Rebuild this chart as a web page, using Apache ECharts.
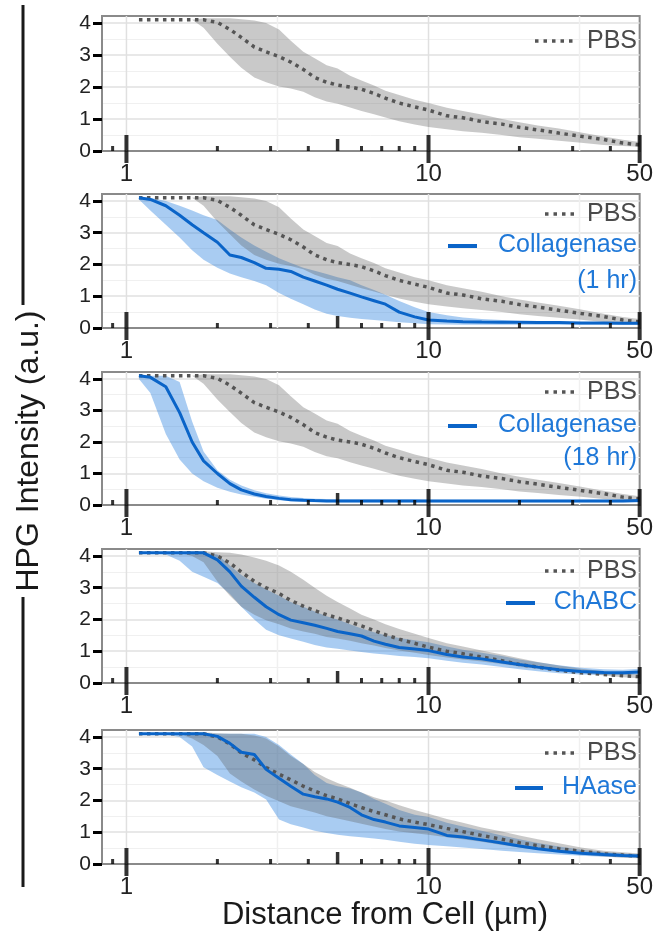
<!DOCTYPE html>
<html>
<head>
<meta charset="utf-8">
<script src="https://cdn.jsdelivr.net/npm/echarts@6/dist/echarts.min.js"></script>
<style>
  html, body { margin: 0; padding: 0; background: #fff; }
  #chart { width: 656px; height: 941px; }
</style>
</head>
<body>
<div id="chart"></div>
<script>
// distance from cell (µm), shared by every curve
var dist = [1.1, 1.2, 1.35, 1.5, 1.65, 1.8, 2, 2.2, 2.4, 2.65, 2.9, 3.2, 3.5, 3.85, 4.2, 4.6, 5, 5.5, 6, 6.6, 7.2, 8, 9, 10, 11.5, 13, 15, 17.5, 20, 23, 27, 32, 38, 44, 50];

// PBS control (panels 1-3)
var pbsMean = [4.1, 4.1, 4.1, 4.1, 4.1, 4.1, 4.02, 3.8, 3.55, 3.25, 3.1, 2.95, 2.78, 2.55, 2.3, 2.15, 2.06, 2.0, 1.93, 1.8, 1.65, 1.5, 1.38, 1.28, 1.1, 1.04, 0.92, 0.84, 0.74, 0.66, 0.56, 0.46, 0.36, 0.25, 0.19];
var pbsHigh = [4.1, 4.1, 4.1, 4.1, 4.1, 4.15, 4.15, 4.15, 4.12, 4.08, 4.0, 3.8, 3.45, 3.1, 2.9, 2.68, 2.58, 2.35, 2.2, 2.05, 1.88, 1.75, 1.6, 1.5, 1.35, 1.25, 1.14, 1.0, 0.9, 0.8, 0.7, 0.58, 0.45, 0.35, 0.28];
var pbsLow = [4.1, 4.1, 4.1, 4.1, 4.1, 3.85, 3.35, 2.95, 2.6, 2.3, 2.15, 2.02, 1.95, 1.85, 1.68, 1.55, 1.48, 1.36, 1.25, 1.15, 1.05, 0.93, 0.83, 0.75, 0.68, 0.62, 0.57, 0.5, 0.43, 0.38, 0.32, 0.26, 0.19, 0.16, 0.13];

// PBS control (panel 4)
var pbsMean4 = [4.1, 4.1, 4.1, 4.1, 4.1, 4.1, 4.0, 3.78, 3.5, 3.2, 3.0, 2.82, 2.6, 2.42, 2.28, 2.15, 2.05, 1.92, 1.8, 1.65, 1.52, 1.38, 1.25, 1.13, 1.0, 0.92, 0.82, 0.7, 0.58, 0.5, 0.4, 0.32, 0.27, 0.23, 0.2];
var pbsHigh4 = [4.1, 4.1, 4.1, 4.12, 4.15, 4.15, 4.12, 4.1, 4.05, 3.95, 3.85, 3.7, 3.5, 3.25, 3.0, 2.75, 2.55, 2.35, 2.15, 2.0, 1.85, 1.7, 1.55, 1.42, 1.25, 1.15, 1.02, 0.9, 0.78, 0.66, 0.55, 0.45, 0.37, 0.3, 0.27];
var pbsLow4 = [4.1, 4.1, 4.1, 4.1, 4.0, 3.8, 3.2, 2.75, 2.4, 2.15, 1.98, 1.85, 1.72, 1.62, 1.55, 1.45, 1.4, 1.33, 1.25, 1.18, 1.1, 1.02, 0.95, 0.88, 0.8, 0.74, 0.68, 0.6, 0.52, 0.46, 0.4, 0.32, 0.24, 0.18, 0.15];

// PBS control (panel 5)
var pbsMean5 = [4.1, 4.1, 4.1, 4.1, 4.1, 4.1, 4.0, 3.78, 3.5, 3.28, 3.04, 2.83, 2.65, 2.45, 2.3, 2.15, 2.05, 1.9, 1.78, 1.65, 1.55, 1.42, 1.32, 1.24, 1.12, 1.02, 0.9, 0.78, 0.67, 0.58, 0.48, 0.4, 0.32, 0.28, 0.25];
var pbsHigh5 = [4.1, 4.1, 4.1, 4.12, 4.15, 4.15, 4.12, 4.1, 4.1, 4.05, 3.95, 3.7, 3.4, 3.15, 2.9, 2.7, 2.55, 2.4, 2.25, 2.1, 2.0, 1.85, 1.7, 1.58, 1.42, 1.3, 1.15, 1.02, 0.9, 0.78, 0.65, 0.52, 0.42, 0.37, 0.33];
var pbsLow5 = [4.1, 4.1, 4.1, 4.1, 3.95, 3.75, 3.4, 2.85, 2.6, 2.35, 2.15, 1.98, 1.82, 1.72, 1.62, 1.5, 1.43, 1.35, 1.27, 1.18, 1.1, 1.02, 0.97, 0.92, 0.84, 0.78, 0.7, 0.6, 0.52, 0.45, 0.38, 0.3, 0.24, 0.2, 0.18];

// Collagenase (1 hr)
var col1Mean = [4.1, 4.05, 3.85, 3.55, 3.25, 3.0, 2.7, 2.3, 2.22, 2.06, 1.88, 1.85, 1.78, 1.6, 1.48, 1.35, 1.22, 1.1, 0.98, 0.86, 0.75, 0.5, 0.35, 0.25, 0.22, 0.2, 0.19, 0.18, 0.18, 0.17, 0.17, 0.16, 0.16, 0.15, 0.15];
var col1High = [4.1, 4.1, 4.0, 3.85, 3.7, 3.55, 3.4, 3.1, 2.85, 2.6, 2.4, 2.2, 2.05, 1.9, 1.8, 1.7, 1.6, 1.5, 1.35, 1.2, 1.05, 0.85, 0.65, 0.5, 0.4, 0.33, 0.28, 0.25, 0.22, 0.2, 0.19, 0.18, 0.17, 0.17, 0.16];
var col1Low = [4.05, 3.7, 3.25, 2.85, 2.45, 2.15, 1.9, 1.72, 1.6, 1.48, 1.35, 1.1, 0.92, 0.75, 0.58, 0.45, 0.38, 0.32, 0.28, 0.25, 0.22, 0.18, 0.15, 0.12, 0.11, 0.1, 0.1, 0.1, 0.1, 0.1, 0.1, 0.1, 0.1, 0.1, 0.1];

// Collagenase (18 hr)
var col18Mean = [4.1, 4.05, 3.75, 2.93, 2.0, 1.4, 1.0, 0.68, 0.48, 0.35, 0.27, 0.21, 0.17, 0.15, 0.14, 0.13, 0.13, 0.13, 0.13, 0.13, 0.13, 0.13, 0.13, 0.13, 0.13, 0.13, 0.13, 0.13, 0.13, 0.13, 0.13, 0.13, 0.13, 0.13, 0.14];
var col18High = [4.1, 4.1, 4.1, 3.9, 2.65, 1.7, 1.1, 0.8, 0.62, 0.47, 0.37, 0.3, 0.25, 0.22, 0.2, 0.19, 0.18, 0.18, 0.18, 0.18, 0.18, 0.18, 0.18, 0.17, 0.17, 0.17, 0.17, 0.17, 0.17, 0.17, 0.17, 0.17, 0.17, 0.17, 0.17];
var col18Low = [4.0, 3.55, 2.25, 1.44, 1.0, 0.75, 0.55, 0.42, 0.33, 0.26, 0.2, 0.15, 0.12, 0.1, 0.09, 0.09, 0.09, 0.09, 0.09, 0.09, 0.09, 0.09, 0.09, 0.09, 0.09, 0.09, 0.09, 0.09, 0.09, 0.09, 0.09, 0.09, 0.09, 0.09, 0.09];

// ChABC
var chabcMean = [4.1, 4.1, 4.1, 4.1, 4.1, 4.1, 3.88, 3.5, 3.05, 2.7, 2.4, 2.15, 1.98, 1.9, 1.82, 1.72, 1.62, 1.55, 1.48, 1.32, 1.22, 1.12, 1.07, 1.02, 0.9, 0.82, 0.76, 0.66, 0.58, 0.5, 0.42, 0.36, 0.33, 0.32, 0.35];
var chabcHigh = [4.1, 4.1, 4.1, 4.1, 4.1, 4.1, 4.05, 3.7, 3.4, 3.15, 2.95, 2.75, 2.55, 2.4, 2.25, 2.1, 2.0, 1.85, 1.72, 1.6, 1.5, 1.42, 1.35, 1.28, 1.15, 1.05, 0.95, 0.85, 0.74, 0.65, 0.56, 0.48, 0.43, 0.42, 0.45];
var chabcLow = [4.1, 4.1, 4.05, 3.85, 3.5, 3.35, 3.15, 2.8, 2.4, 2.0, 1.68, 1.5, 1.4, 1.3, 1.2, 1.12, 1.08, 1.02, 0.98, 0.93, 0.9, 0.85, 0.82, 0.78, 0.7, 0.64, 0.58, 0.5, 0.43, 0.37, 0.31, 0.27, 0.25, 0.25, 0.27];

// HAase
var haseMean = [4.1, 4.1, 4.1, 4.1, 4.1, 4.1, 4.02, 3.8, 3.52, 3.45, 2.98, 2.7, 2.45, 2.2, 2.12, 2.05, 1.95, 1.78, 1.55, 1.4, 1.32, 1.2, 1.15, 1.1, 0.9, 0.85, 0.76, 0.66, 0.57, 0.48, 0.4, 0.34, 0.3, 0.27, 0.25];
var haseHigh = [4.1, 4.1, 4.1, 4.1, 4.1, 4.1, 4.1, 4.1, 4.1, 4.1, 4.0, 3.75, 3.45, 3.15, 2.8, 2.55, 2.45, 2.38, 2.25, 2.05, 1.9, 1.7, 1.55, 1.48, 1.3, 1.18, 1.05, 0.9, 0.78, 0.66, 0.55, 0.45, 0.38, 0.33, 0.3];
var haseLow = [4.1, 4.1, 4.08, 4.0, 3.7, 3.05, 2.8, 2.6, 2.42, 2.25, 2.03, 1.4, 1.25, 1.15, 1.05, 0.98, 0.92, 0.87, 0.84, 0.8, 0.76, 0.7, 0.64, 0.6, 0.56, 0.52, 0.47, 0.42, 0.38, 0.34, 0.3, 0.26, 0.23, 0.21, 0.2];

// axis ticks / labels
var xLabels = [1, 10, 50];
var xTicksMajor = [1, 10, 50];
var xTicksMid = [5];
var xTicksMinor = [0.9, 2, 3, 4, 6, 7, 8, 9, 20, 30, 40];
var xGridMajor = [1, 10];
var xGridMinor = [3.162, 31.62];
var yLabels = [0, 1, 2, 3, 4];
var trtNames = [null, ['Collagenase', '(1 hr)'], ['Collagenase', '(18 hr)'], ['ChABC'], ['HAase']];

var panels = [
    { pbs: [pbsMean, pbsLow, pbsHigh], trt: null },
    { pbs: [pbsMean, pbsLow, pbsHigh], trt: [col1Mean, col1Low, col1High] },
    { pbs: [pbsMean, pbsLow, pbsHigh], trt: [col18Mean, col18Low, col18High] },
    { pbs: [pbsMean4, pbsLow4, pbsHigh4], trt: [chabcMean, chabcLow, chabcHigh] },
    { pbs: [pbsMean5, pbsLow5, pbsHigh5], trt: [haseMean, haseLow, haseHigh] }
];

// layout
var gridTop = [16, 194, 372, 549, 730];
var gridH = [135, 134, 133, 134, 134];
var legendPos = [
    { pbsY: 41, pbsIcon: [535, 577] },
    { pbsY: 214, pbsIcon: [545, 575], trtY: [245, 281], trtIcon: [448, 477] },
    { pbsY: 392, pbsIcon: [545, 575], trtY: [425, 458], trtIcon: [448, 477] },
    { pbsY: 571, pbsIcon: [545, 575], trtY: [602], trtIcon: [506, 535] },
    { pbsY: 753, pbsIcon: [545, 575], trtY: [787], trtIcon: [515, 543] }
];

var FONT = '"Liberation Sans", Arial, sans-serif';
var GRAY_LINE = '#555555';
var GRAY_BAND = 'rgba(90,90,90,0.33)';
var BLUE_LINE = '#0a64c8';
var BLUE_BAND = 'rgba(30,120,220,0.38)';
var BLUE_TEXT = '#1f78d8';
var AXIS_GRAY = '#8a8a8a';
var Y_MAX = 4.22;

function pairs(arr) {
    return dist.map(function(d, i) { return [d, arr[i]]; });
}

function near(v, list) {
    for (var i = 0; i < list.length; i++) {
        if (Math.abs(v - list[i]) / list[i] < 0.002) return list[i];
    }
    return null;
}

// shaded band between lo and hi, drawn as one polygon through the axes
function bandSeries(idx, lo, hi, fill, z) {
    return {
        type: 'custom', xAxisIndex: idx, yAxisIndex: idx, z: z, silent: true,
        data: [[dist[0], lo[0]]],
        renderItem: function(params, api) {
            var top = dist.map(function(d, k) { return api.coord([d, hi[k]]); });
            var bot = dist.map(function(d, k) { return api.coord([d, lo[k]]); }).reverse();
            return { type: 'polygon', shape: { points: top.concat(bot) }, style: { fill: fill } };
        }
    };
}

// vertical grid lines at decades and half decades
function vGridSeries(idx) {
    return {
        type: 'custom', xAxisIndex: idx, yAxisIndex: idx, z: 1, silent: true,
        data: [[1, 0]],
        renderItem: function(params, api) {
            var kids = [];
            xGridMajor.concat(xGridMinor).forEach(function(v) {
                var a = api.coord([v, 0]), b = api.coord([v, Y_MAX]);
                kids.push({
                    type: 'line', shape: { x1: a[0], y1: a[1], x2: b[0], y2: b[1] },
                    style: { stroke: xGridMajor.indexOf(v) >= 0 ? '#e0e0e0' : '#f0f0f0', lineWidth: 1.5 }
                });
            });
            return { type: 'group', children: kids };
        }
    };
}

var grids = [], xAxes = [], yAxes = [], series = [], graphics = [];

panels.forEach(function(p, i) {
    grids.push({
        left: 102, right: 15, top: gridTop[i], height: gridH[i],
        show: true, borderColor: AXIS_GRAY, borderWidth: 2, backgroundColor: '#fff'
    });
    xAxes.push({
        type: 'log', logBase: 10, gridIndex: i, min: 0.83, max: 50,
        axisLine: { lineStyle: { color: AXIS_GRAY, width: 2 } },
        axisTick: { show: false },
        splitLine: { show: false },
        axisLabel: {
            fontSize: 24, color: '#222', margin: 11, fontFamily: FONT,
            formatter: function(v) {
                var t = near(v, xLabels);
                return t === null ? '' : String(t);
            }
        }
    });
    yAxes.push({
        type: 'value', gridIndex: i, min: 0, max: Y_MAX, interval: 1,
        axisLine: { show: true, lineStyle: { color: AXIS_GRAY, width: 2 } },
        axisTick: { show: true, length: 9, customValues: yLabels, lineStyle: { color: '#000', width: 3 } },
        axisLabel: { customValues: yLabels, fontSize: 21, color: '#222', margin: 11, fontFamily: FONT },
        splitLine: { show: true, lineStyle: { color: '#e0e0e0', width: 1.5 } },
        minorTick: { show: false, splitNumber: 2 },
        minorSplitLine: { show: true, lineStyle: { color: '#f0f0f0', width: 1 } }
    });

    series.push(vGridSeries(i));
    if (p.trt) series.push(bandSeries(i, p.trt[1], p.trt[2], BLUE_BAND, 2));
    series.push(bandSeries(i, p.pbs[1], p.pbs[2], GRAY_BAND, 3));

    series.push({
        type: 'line', xAxisIndex: i, yAxisIndex: i, data: pairs(p.pbs[0]),
        symbol: 'none', silent: true, z: 4,
        lineStyle: { color: GRAY_LINE, width: 3.5, type: [3.5, 4.5], cap: 'butt' }
    });
    if (p.trt) {
        series.push({
            type: 'line', xAxisIndex: i, yAxisIndex: i, data: pairs(p.trt[0]),
            symbol: 'none', silent: true, z: 5,
            lineStyle: { color: BLUE_LINE, width: 3 }
        });
    }

    // x ticks: tall majors, mid at 5, dots elsewhere
    [[xTicksMajor, [4, 28], -2], [xTicksMid, [3.5, 12], -6], [xTicksMinor, [3, 5], -2.5]].forEach(function(t) {
        series.push({
            type: 'scatter', xAxisIndex: i, yAxisIndex: i,
            data: t[0].map(function(v) { return [v, 0]; }),
            symbol: 'rect', symbolSize: t[1], symbolOffset: [0, t[2]],
            itemStyle: { color: '#000' }, clip: false, silent: true, z: 10
        });
    });

    // legend
    var lp = legendPos[i];
    graphics.push({
        type: 'line', z: 100, shape: { x1: lp.pbsIcon[0], y1: lp.pbsY, x2: lp.pbsIcon[1], y2: lp.pbsY },
        style: { stroke: GRAY_LINE, lineWidth: 3.5, lineDash: [3.5, 5] }
    });
    graphics.push({
        type: 'text', z: 100, x: 637, y: lp.pbsY,
        style: { text: 'PBS', fill: '#4a4a4a', font: '25px ' + FONT, align: 'right', verticalAlign: 'middle' }
    });
    if (trtNames[i]) {
        graphics.push({
            type: 'line', z: 100, shape: { x1: lp.trtIcon[0], y1: lp.trtY[0] + 1, x2: lp.trtIcon[1], y2: lp.trtY[0] + 1 },
            style: { stroke: BLUE_LINE, lineWidth: 4 }
        });
        trtNames[i].forEach(function(s, k) {
            graphics.push({
                type: 'text', z: 100, x: 637, y: lp.trtY[k],
                style: { text: s, fill: BLUE_TEXT, font: '25px ' + FONT, align: 'right', verticalAlign: 'middle' }
            });
        });
    }
});

// axis titles and side bars
graphics.push({ type: 'line', shape: { x1: 23, y1: 5, x2: 23, y2: 305 }, style: { stroke: '#1a1a1a', lineWidth: 3 } });
graphics.push({ type: 'line', shape: { x1: 23, y1: 597, x2: 23, y2: 887 }, style: { stroke: '#1a1a1a', lineWidth: 3 } });
graphics.push({
    type: 'text', x: 29, y: 451, rotation: Math.PI / 2,
    style: { text: 'HPG Intensity (a.u.)', fill: '#1a1a1a', font: '32px ' + FONT, align: 'center', verticalAlign: 'middle' }
});
graphics.push({
    type: 'text', x: 385, y: 915,
    style: { text: 'Distance from Cell (µm)', fill: '#1a1a1a', font: '31px ' + FONT, align: 'center', verticalAlign: 'middle' }
});

var chart = echarts.init(document.getElementById('chart'), null, { renderer: 'canvas' });
chart.setOption({
    backgroundColor: '#fff',
    animation: false,
    textStyle: { fontFamily: FONT },
    grid: grids,
    xAxis: xAxes,
    yAxis: yAxes,
    series: series,
    graphic: graphics
});
</script>
</body>
</html>
